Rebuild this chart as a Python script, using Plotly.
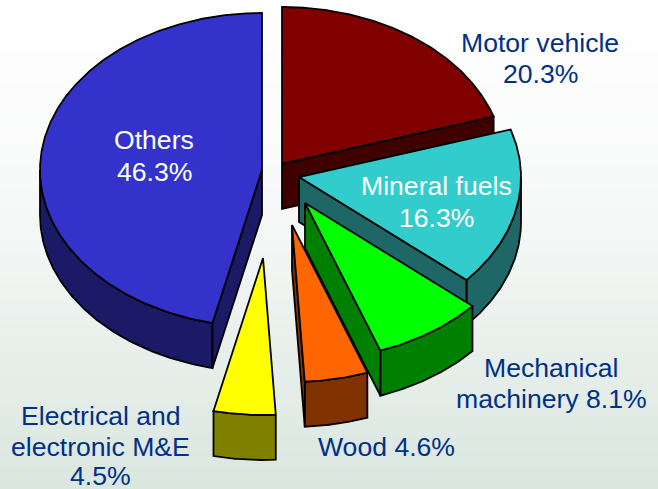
import numpy as np
import plotly.graph_objects as go

categories = ["Motor vehicle", "Mineral fuels", "Mechanical machinery", "Wood", "Electrical and electronic M&E", "Others"]
shares = [20.3, 16.3, 8.1, 4.6, 4.5, 46.3]
top_colors = ["#800000", "#33CCCC", "#00FF00", "#FF6600", "#FFFF00", "#3333CC"]
side_colors = ["#400000", "#1F6666", "#008000", "#803300", "#808000", "#1A1A66"]
apex_x = [282, 299, 305, 292, 263, 262]
apex_y = [164, 177, 203, 225, 258, 170]
draw_order = [0, 5, 1, 2, 3, 4]

RX, RY, DEPTH = 222, 157, 45
W, H = 658, 489

edges = np.concatenate([[0], np.cumsum(shares)]) / sum(shares) * 360
edges[1:-1] -= 0.6


def arc(cx, cy, a0, a1, dy=0):
    t = np.radians(np.linspace(a0, a1, max(int(abs(a1 - a0)) * 2, 2)))
    return cx + RX * np.sin(t), cy - RY * np.cos(t) + dy


def poly(fig, x, y, color, name):
    fig.add_trace(go.Scatter(x=list(x), y=list(y), mode="lines", fill="toself", fillcolor=color,
                             line=dict(color="black", width=1.8), hoverinfo="text", text=name,
                             showlegend=False))


fig = go.Figure()
fig.add_trace(go.Heatmap(x=[0, W], y=[0, 200, H], z=[[0, 0], [200, 200], [H, H]], zsmooth="best",
                         showscale=False, hoverinfo="skip",
                         colorscale=[[0, "#FFFFFF"], [200 / H, "#F7F9F8"], [1, "#DAE6DF"]]))

for i in draw_order:
    a0, a1 = edges[i], edges[i + 1]
    cx, cy = apex_x[i], apex_y[i]
    lo, hi = max(a0, 90), min(a1, 270)
    # outer wall (only the part of the rim that faces the viewer)
    if lo < hi:
        ax, ay = arc(cx, cy, lo, hi)
        poly(fig, np.r_[ax, ax[::-1], ax[0]], np.r_[ay, ay[::-1] + DEPTH, ay[0]], side_colors[i], categories[i])
    # radial walls that face the viewer
    for ang, visible in ((a0, np.sin(np.radians(a0)) < -1e-6), (a1, np.sin(np.radians(a1)) > 1e-6)):
        if visible:
            ex, ey = arc(cx, cy, ang, ang + 0.001)
            poly(fig, [cx, ex[0], ex[0], cx, cx], [cy, ey[0], ey[0] + DEPTH, cy + DEPTH, cy],
                 side_colors[i], categories[i])
    ax, ay = arc(cx, cy, a0, a1)
    poly(fig, np.r_[cx, ax, cx], np.r_[cy, ay, cy], top_colors[i], categories[i])

BLUE = "#003087"
labels = [
    ("Motor vehicle", 540, 43, BLUE),
    ("20.3%", 540, 74, BLUE),
    ("Mineral fuels", 436, 186, "white"),
    ("16.3%", 436, 218, "white"),
    ("Mechanical", 551, 368, BLUE),
    ("machinery 8.1%", 551, 399, BLUE),
    ("Wood 4.6%", 386, 447, BLUE),
    ("Electrical and", 101, 416, BLUE),
    ("electronic M&amp;E", 100, 447, BLUE),
    ("4.5%", 100, 476, BLUE),
    ("Others", 154, 140, "white"),
    ("46.3%", 154, 172, "white"),
]
for text, x, y, color in labels:
    fig.add_annotation(x=x, y=y, text=text, showarrow=False, xref="x", yref="y",
                       font=dict(family="Liberation Sans", size=26.6, color=color), align="center")

fig.update_layout(width=W, height=H, margin=dict(l=0, r=0, t=0, b=0), showlegend=False,
                  paper_bgcolor="white", plot_bgcolor="white",
                  xaxis=dict(range=[0, W], visible=False, fixedrange=True),
                  yaxis=dict(range=[H, 0], visible=False, fixedrange=True))
fig.write_html("out.html", config={"displayModeBar": False},
               post_script="document.body.style.margin='0';document.body.style.overflow='hidden';")
